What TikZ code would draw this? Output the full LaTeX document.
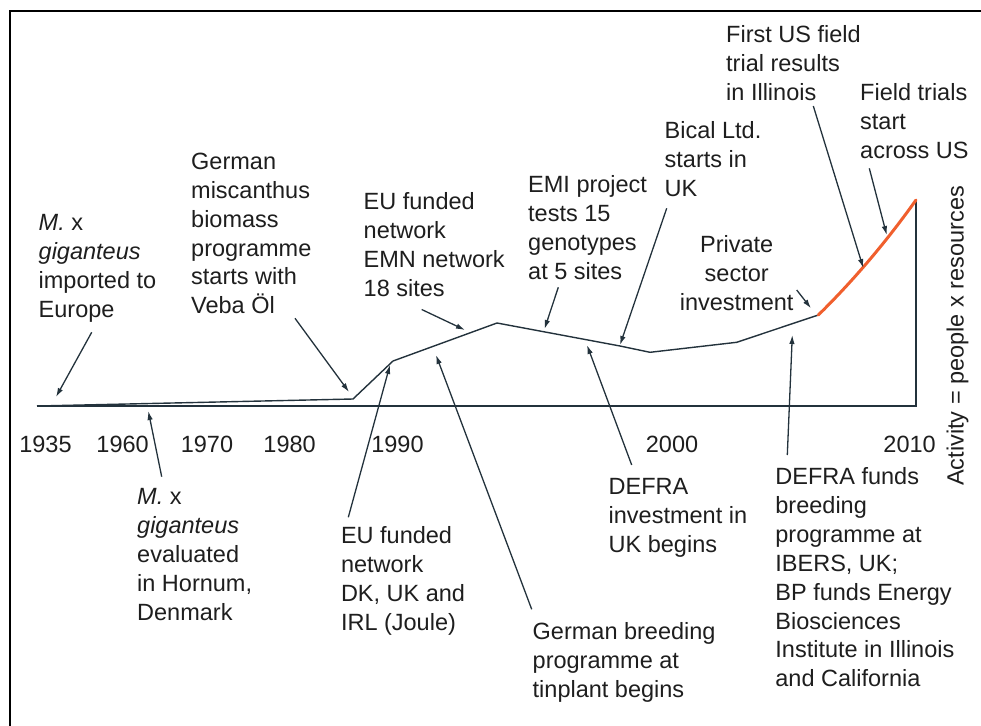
\documentclass[tikz,border=0pt]{standalone}
\usepackage{fontspec}
\setmainfont{Liberation Sans}
\usetikzlibrary{arrows.meta}
\definecolor{ink}{RGB}{30,30,30}
\definecolor{linec}{RGB}{35,50,60}
\definecolor{trend}{RGB}{240,95,45}
\begin{document}
\begin{tikzpicture}[x=1pt,y=-1pt,
  font=\fontsize{23.5}{28.9}\selectfont, text=ink,
  lbl/.style={anchor=north west, inner sep=0pt, align=left},
  yr/.style={anchor=north, inner sep=0pt},
  ptr/.style={draw=linec, line width=1.3pt, -{Latex[length=9pt,width=5.5pt]}},
  axisl/.style={draw=linec, line width=1.6pt, line join=miter},
  datal/.style={draw=linec, line width=1.4pt, line join=round},
  trendl/.style={draw=trend, line width=3pt, line cap=round},
  framel/.style={draw=black, line width=2pt}]
\useasboundingbox (0,0) rectangle (981,725);
% frame
\draw[framel] (9.5,735) -- (9.5,11) -- (995,11);
% axes
\coordinate (o0) at (37,406);
\coordinate (o1) at (916,406);
\coordinate (p0) at (37,406);
\coordinate (p1) at (353,399);
\coordinate (p2) at (393,361);
\coordinate (p3) at (497,323);
\coordinate (p4) at (620,346);
\coordinate (p5) at (650,352.3);
\coordinate (p6) at (736.7,342.3);
\coordinate (p7) at (818.3,315);
\coordinate (p8) at (916,200);
\draw[axisl] (o0) -- (o1) -- (p8);
\draw[datal] (p0) -- (p1) -- (p2) -- (p3) -- (p4) -- (p5) -- (p6) -- (p7);
\draw[trendl] (p7) .. controls (850,284) and (884,245) .. (p8);
% years
\node[yr] (y1935) at (45.5,436) {1935};
\node[yr] (y1960) at (122.6,436) {1960};
\node[yr] (y1970) at (207,436) {1970};
\node[yr] (y1980) at (289.6,436) {1980};
\node[yr] (y1990) at (397.5,436) {1990};
\node[yr] (y2000) at (672,436) {2000};
\node[yr] (y2010) at (909.6,436) {2010};
% axis label
\node[rotate=90, anchor=base, inner sep=0pt] (ylab) at (963.5,336) {Activity = people x resources};
% labels above
\node[lbl] (n1) at (38.5,214.3) {\textit{M.} x\\\textit{giganteus}\\imported to\\Europe};
\node[lbl] (n2) at (191,152.7) {German\\miscanthus\\biomass\\programme\\starts with\\Veba Öl};
\node[lbl] (n3) at (363.5,192.7) {EU funded\\network\\EMN network\\18 sites};
\node[lbl] (n4) at (528,175.7) {EMI project\\tests 15\\genotypes\\at 5 sites};
\node[lbl] (n5) at (664.5,121.7) {Bical Ltd.\\starts in\\UK};
\node[anchor=north, inner sep=0pt, align=center] (n6) at (736.7,235) {Private\\sector\\investment};
\node[lbl] (n7) at (726,25) {First US field\\trial results\\in Illinois};
\node[lbl] (n8) at (860,83.3) {Field trials\\start\\across US};
% labels below
\node[lbl] (n10) at (137,488.3) {\textit{M.} x\\\textit{giganteus}\\evaluated\\in Hornum,\\Denmark};
\node[lbl] (n11) at (340.8,526.7) {EU funded\\network\\DK, UK and\\IRL (Joule)};
\node[lbl] (n12) at (532.5,622.3) {German breeding\\programme at\\tinplant begins};
\node[lbl] (n13) at (608.5,478.3) {DEFRA\\investment in\\UK begins};
\node[lbl] (n14) at (775.2,467.3) {DEFRA funds\\breeding\\programme at\\IBERS, UK;\\BP funds Energy\\Biosciences\\Institute in Illinois\\and California};
% arrow ends
\coordinate (s1) at (91.7,332.3);  \coordinate (t1) at (56,397);
\coordinate (s2) at (295,318.3);   \coordinate (t2) at (349,392);
\coordinate (s3) at (421.7,309.5); \coordinate (t3) at (465,330);
\coordinate (s4) at (558.3,287.3); \coordinate (t4) at (544.5,329);
\coordinate (s5) at (666.7,208.3); \coordinate (t5) at (620,345);
\coordinate (s6) at (796.7,290);   \coordinate (t6) at (811,308.3);
\coordinate (s7) at (813.3,106);   \coordinate (t7) at (863.3,268);
\coordinate (s8) at (869.3,168.3); \coordinate (t8) at (886.7,235);
\coordinate (s9) at (161.7,476.7); \coordinate (t9) at (148.3,411);
\coordinate (s10) at (348.3,517.3); \coordinate (t10) at (390,365);
\coordinate (s11) at (531.7,609.3); \coordinate (t11) at (436,355);
\coordinate (s12) at (631.7,465);   \coordinate (t12) at (587,345);
\coordinate (s13) at (787.3,455);   \coordinate (t13) at (792.3,335);
\foreach \i in {1,...,13} {\draw[ptr] (s\i) -- (t\i);}
\end{tikzpicture}
\end{document}
